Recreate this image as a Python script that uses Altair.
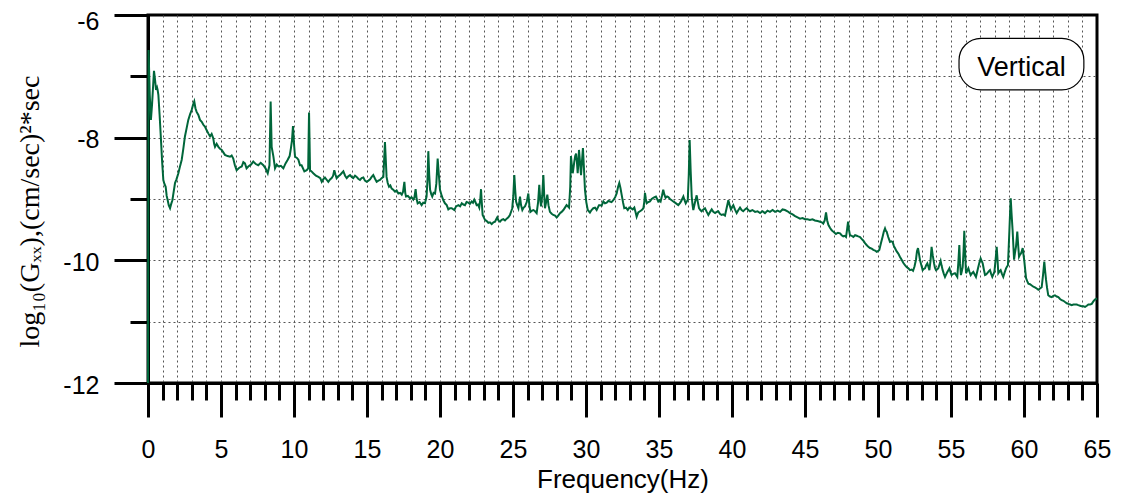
import altair as alt
import pandas as pd

freq_hz = [
    0.00, 0.04, 0.12, 0.20, 0.28, 0.41, 0.48, 0.55, 0.62, 0.66, 0.71, 0.80, 0.89, 0.97, 1.05, 1.12, 1.21, 1.28, 1.35, 1.42,
    1.51, 1.59, 1.67, 1.76, 1.85, 1.95, 2.08, 2.20, 2.31, 2.42, 2.53, 2.65, 2.76, 2.88, 2.99, 3.08, 3.17, 3.25, 3.33, 3.45,
    3.56, 3.68, 3.79, 3.90, 4.02, 4.13, 4.25, 4.36, 4.47, 4.53, 4.59, 4.70, 4.82, 4.93, 5.05, 5.16, 5.27, 5.45, 5.62, 5.73,
    5.84, 5.95, 6.07, 6.25, 6.42, 6.53, 6.64, 6.75, 6.87, 7.05, 7.21, 7.38, 7.55, 7.72, 7.90, 8.05, 8.20, 8.32, 8.40, 8.47,
    8.59, 8.70, 8.82, 8.93, 9.10, 9.27, 9.42, 9.57, 9.70, 9.79, 9.86, 9.93, 10.00, 10.07, 10.20, 10.30, 10.41, 10.52, 10.71, 10.87,
    10.97, 11.03, 11.10, 11.20, 11.32, 11.50, 11.67, 11.80, 11.90, 12.00, 12.12, 12.25, 12.35, 12.47, 12.58, 12.68, 12.76, 12.84, 12.92, 13.03,
    13.15, 13.26, 13.38, 13.50, 13.61, 13.72, 13.84, 13.95, 14.06, 14.18, 14.29, 14.40, 14.52, 14.63, 14.75, 14.86, 14.98, 15.10, 15.21, 15.32,
    15.43, 15.55, 15.66, 15.78, 15.89, 16.00, 16.12, 16.23, 16.34, 16.42, 16.51, 16.60, 16.69, 16.80, 16.92, 17.03, 17.15, 17.27, 17.38, 17.47,
    17.56, 17.62, 17.67, 17.80, 17.95, 18.05, 18.17, 18.25, 18.33, 18.40, 18.47, 18.60, 18.74, 18.85, 18.97, 19.08, 19.14, 19.20, 19.26, 19.32,
    19.40, 19.47, 19.56, 19.66, 19.75, 19.84, 19.92, 20.00, 20.12, 20.23, 20.34, 20.46, 20.57, 20.68, 20.80, 20.98, 21.10, 21.26, 21.38, 21.49,
    21.60, 21.71, 21.82, 21.94, 22.05, 22.17, 22.26, 22.35, 22.43, 22.51, 22.60, 22.69, 22.76, 22.81, 22.86, 22.92, 23.00, 23.08, 23.20, 23.31,
    23.42, 23.54, 23.66, 23.77, 23.85, 23.92, 24.00, 24.11, 24.22, 24.34, 24.45, 24.57, 24.68, 24.79, 24.88, 24.95, 25.02, 25.09, 25.15, 25.21,
    25.29, 25.37, 25.43, 25.48, 25.55, 25.64, 25.73, 25.82, 25.94, 26.05, 26.12, 26.19, 26.30, 26.40, 26.51, 26.62, 26.72, 26.80, 26.86, 26.92,
    27.00, 27.08, 27.14, 27.19, 27.27, 27.35, 27.43, 27.53, 27.65, 27.76, 27.88, 27.99, 28.10, 28.22, 28.33, 28.45, 28.56, 28.67, 28.76, 28.84,
    28.92, 28.97, 29.03, 29.09, 29.15, 29.20, 29.26, 29.32, 29.38, 29.43, 29.48, 29.52, 29.59, 29.66, 29.72, 29.79, 29.86, 29.93, 30.02, 30.12,
    30.27, 30.38, 30.50, 30.62, 30.73, 30.89, 30.96, 31.07, 31.19, 31.30, 31.42, 31.53, 31.64, 31.75, 31.87, 32.00, 32.10, 32.20, 32.28, 32.36,
    32.45, 32.54, 32.62, 32.74, 32.86, 32.97, 33.08, 33.20, 33.31, 33.40, 33.47, 33.58, 33.70, 33.82, 33.93, 33.99, 34.04, 34.10, 34.16, 34.27,
    34.38, 34.50, 34.61, 34.70, 34.79, 34.87, 34.95, 35.03, 35.11, 35.20, 35.29, 35.37, 35.45, 35.55, 35.64, 35.75, 35.87, 35.98, 36.10, 36.21,
    36.32, 36.42, 36.51, 36.59, 36.67, 36.75, 36.83, 36.90, 36.97, 37.04, 37.10, 37.17, 37.24, 37.30, 37.35, 37.47, 37.58, 37.66, 37.74, 37.83,
    37.92, 38.04, 38.15, 38.27, 38.38, 38.50, 38.61, 38.72, 38.84, 38.95, 39.06, 39.17, 39.29, 39.40, 39.52, 39.63, 39.75, 39.84, 39.93, 40.01,
    40.09, 40.20, 40.32, 40.44, 40.55, 40.66, 40.77, 40.89, 41.01, 41.12, 41.23, 41.40, 41.58, 41.75, 41.92, 42.09, 42.26, 42.43, 42.60, 42.78,
    42.95, 43.12, 43.29, 43.46, 43.63, 43.80, 43.97, 44.15, 44.32, 44.49, 44.66, 44.83, 45.00, 45.17, 45.34, 45.51, 45.68, 45.86, 46.03, 46.15,
    46.25, 46.35, 46.44, 46.52, 46.60, 46.71, 46.83, 46.97, 47.12, 47.26, 47.40, 47.51, 47.62, 47.72, 47.81, 47.88, 47.95, 48.01, 48.08, 48.20,
    48.31, 48.43, 48.54, 48.65, 48.77, 48.88, 49.00, 49.11, 49.22, 49.34, 49.45, 49.57, 49.68, 49.80, 49.91, 50.00, 50.09, 50.20, 50.32, 50.40,
    50.48, 50.54, 50.59, 50.70, 50.82, 50.91, 51.00, 51.08, 51.16, 51.27, 51.39, 51.50, 51.62, 51.73, 51.85, 51.96, 52.08, 52.19, 52.30, 52.40,
    52.50, 52.60, 52.67, 52.74, 52.81, 52.88, 52.97, 53.06, 53.14, 53.22, 53.30, 53.38, 53.45, 53.52, 53.60, 53.67, 53.75, 53.84, 53.90, 53.97,
    54.05, 54.13, 54.21, 54.29, 54.36, 54.43, 54.51, 54.59, 54.67, 54.75, 54.82, 54.89, 54.96, 55.04, 55.15, 55.27, 55.35, 55.43, 55.50, 55.57,
    55.62, 55.68, 55.74, 55.80, 55.86, 55.91, 55.97, 56.03, 56.11, 56.19, 56.27, 56.35, 56.44, 56.53, 56.62, 56.71, 56.79, 56.87, 56.95, 57.03,
    57.10, 57.17, 57.25, 57.33, 57.41, 57.49, 57.58, 57.67, 57.75, 57.83, 57.90, 57.97, 58.05, 58.13, 58.19, 58.24, 58.32, 58.40, 58.49, 58.58,
    58.67, 58.77, 58.84, 58.90, 58.95, 59.00, 59.05, 59.09, 59.15, 59.22, 59.27, 59.32, 59.38, 59.45, 59.50, 59.54, 59.60, 59.66, 59.72, 59.79,
    59.85, 59.91, 59.96, 60.02, 60.08, 60.14, 60.22, 60.30, 60.41, 60.53, 60.64, 60.75, 60.87, 60.98, 61.10, 61.21, 61.30, 61.39, 61.45, 61.51,
    61.58, 61.66, 61.78, 61.90, 62.01, 62.12, 62.24, 62.35, 62.47, 62.58, 62.70, 62.81, 62.93, 63.04, 63.16, 63.27, 63.38, 63.49, 63.61, 63.72,
    63.84, 63.95, 64.07, 64.18, 64.30, 64.41, 64.53, 64.64, 64.75, 64.86, 65.00,
]

log_gxx = [
    -12.00, -6.57, -7.30, -7.71, -7.45, -6.91, -7.05, -7.22, -7.18, -7.22, -7.30, -7.65, -8.04, -8.40, -8.69, -8.75, -8.80, -8.95, -9.02, -9.10,
    -9.15, -9.08, -9.02, -8.88, -8.74, -8.68, -8.58, -8.46, -8.36, -8.18, -7.98, -7.84, -7.71, -7.62, -7.55, -7.47, -7.41, -7.52, -7.58, -7.63,
    -7.71, -7.74, -7.79, -7.82, -7.88, -7.93, -7.98, -7.94, -8.01, -8.10, -8.15, -8.10, -8.15, -8.18, -8.20, -8.24, -8.28, -8.30, -8.31, -8.29,
    -8.34, -8.45, -8.53, -8.49, -8.47, -8.40, -8.42, -8.50, -8.47, -8.44, -8.39, -8.43, -8.45, -8.41, -8.45, -8.50, -8.58, -8.45, -7.41, -8.15,
    -8.31, -8.50, -8.44, -8.47, -8.46, -8.50, -8.42, -8.36, -8.30, -8.17, -8.05, -7.81, -8.10, -8.31, -8.33, -8.36, -8.45, -8.45, -8.55, -8.53,
    -8.50, -7.59, -8.53, -8.55, -8.58, -8.62, -8.64, -8.66, -8.72, -8.68, -8.65, -8.69, -8.72, -8.68, -8.66, -8.62, -8.53, -8.60, -8.66, -8.63,
    -8.61, -8.58, -8.55, -8.62, -8.66, -8.63, -8.61, -8.64, -8.66, -8.62, -8.64, -8.67, -8.69, -8.66, -8.65, -8.70, -8.72, -8.70, -8.68, -8.64,
    -8.61, -8.67, -8.72, -8.70, -8.69, -8.66, -8.64, -8.07, -8.64, -8.74, -8.80, -8.78, -8.83, -8.85, -8.88, -8.86, -8.91, -8.90, -8.93, -8.88,
    -8.72, -8.90, -8.96, -8.95, -8.99, -8.97, -9.01, -8.97, -8.84, -9.00, -9.07, -9.05, -9.10, -9.06, -9.07, -8.96, -8.70, -8.22, -8.60, -8.85,
    -8.92, -8.96, -8.90, -8.91, -8.75, -8.34, -8.60, -8.85, -8.95, -9.02, -9.07, -9.10, -9.17, -9.15, -9.15, -9.18, -9.12, -9.10, -9.12, -9.07,
    -9.09, -9.10, -9.05, -9.06, -9.08, -9.04, -9.06, -9.01, -9.05, -9.10, -9.09, -9.14, -9.00, -8.84, -9.05, -9.26, -9.30, -9.34, -9.36, -9.39,
    -9.38, -9.41, -9.38, -9.37, -9.33, -9.30, -9.35, -9.37, -9.34, -9.33, -9.35, -9.32, -9.30, -9.26, -9.20, -9.15, -8.95, -8.61, -8.85, -9.04,
    -9.10, -9.15, -9.05, -8.96, -9.10, -9.18, -9.14, -9.12, -9.05, -8.91, -9.10, -9.21, -9.19, -9.18, -9.20, -9.23, -9.05, -8.77, -9.00, -9.12,
    -8.95, -8.61, -8.95, -9.15, -9.05, -8.93, -9.10, -9.21, -9.24, -9.26, -9.27, -9.30, -9.27, -9.23, -9.21, -9.18, -9.14, -9.10, -9.12, -9.14,
    -8.80, -8.30, -8.45, -8.58, -8.48, -8.39, -8.30, -8.26, -8.40, -8.58, -8.40, -8.20, -8.40, -8.61, -8.40, -8.17, -8.50, -8.85, -9.05, -9.18,
    -9.22, -9.18, -9.15, -9.14, -9.18, -9.10, -9.10, -9.11, -9.04, -9.07, -9.06, -9.03, -9.04, -9.05, -9.02, -8.97, -8.91, -8.80, -8.74, -8.82,
    -8.94, -9.06, -9.15, -9.14, -9.18, -9.14, -9.15, -9.17, -9.14, -9.22, -9.29, -9.22, -9.20, -9.18, -9.15, -9.05, -8.90, -9.00, -9.07, -9.05,
    -9.04, -9.00, -8.98, -8.97, -8.96, -9.00, -9.04, -9.02, -9.04, -8.95, -8.85, -8.93, -8.98, -8.96, -8.97, -9.00, -9.02, -9.04, -9.06, -9.08,
    -9.10, -9.07, -9.04, -9.00, -8.96, -9.02, -9.07, -9.04, -9.02, -8.60, -8.04, -8.55, -8.96, -9.10, -9.18, -9.05, -8.94, -9.05, -9.15, -9.18,
    -9.20, -9.17, -9.15, -9.21, -9.26, -9.21, -9.17, -9.21, -9.23, -9.21, -9.20, -9.24, -9.26, -9.25, -9.27, -9.15, -9.02, -9.10, -9.17, -9.13,
    -9.10, -9.17, -9.23, -9.18, -9.14, -9.18, -9.20, -9.17, -9.15, -9.18, -9.20, -9.18, -9.21, -9.20, -9.23, -9.20, -9.23, -9.19, -9.21, -9.18,
    -9.21, -9.19, -9.21, -9.17, -9.18, -9.20, -9.23, -9.25, -9.28, -9.30, -9.32, -9.31, -9.33, -9.33, -9.34, -9.33, -9.35, -9.36, -9.37, -9.38,
    -9.40, -9.35, -9.22, -9.35, -9.42, -9.47, -9.51, -9.54, -9.57, -9.55, -9.56, -9.59, -9.61, -9.60, -9.62, -9.50, -9.37, -9.50, -9.59, -9.60,
    -9.62, -9.59, -9.60, -9.61, -9.62, -9.65, -9.68, -9.72, -9.75, -9.78, -9.80, -9.81, -9.83, -9.84, -9.86, -9.85, -9.83, -9.72, -9.61, -9.53,
    -9.48, -9.52, -9.53, -9.62, -9.70, -9.69, -9.70, -9.76, -9.80, -9.85, -9.89, -9.94, -9.99, -10.04, -10.08, -10.11, -10.13, -10.16, -10.15, -10.17,
    -10.10, -9.99, -9.85, -9.80, -9.90, -10.00, -10.08, -10.16, -10.14, -10.13, -10.08, -10.05, -10.10, -10.16, -10.00, -9.78, -9.92, -10.05, -10.12, -10.16,
    -10.15, -10.13, -10.07, -10.01, -10.09, -10.16, -10.22, -10.27, -10.23, -10.19, -10.16, -10.13, -10.19, -10.24, -10.22, -10.21, -10.24, -10.27, -10.05, -9.75,
    -10.05, -10.24, -10.18, -10.11, -9.85, -9.52, -9.90, -10.21, -10.17, -10.13, -10.19, -10.24, -10.21, -10.19, -10.23, -10.27, -10.19, -10.11, -10.03, -9.97,
    -10.01, -10.05, -10.15, -10.24, -10.23, -10.21, -10.18, -10.16, -10.22, -10.27, -10.23, -10.19, -10.00, -9.78, -10.00, -10.21, -10.18, -10.16, -10.22, -10.27,
    -10.20, -10.13, -10.10, -10.08, -9.80, -9.51, -9.20, -8.99, -9.25, -9.51, -9.75, -9.99, -9.88, -9.78, -9.65, -9.53, -9.75, -9.94, -9.91, -9.89,
    -9.85, -9.80, -9.90, -10.01, -10.15, -10.29, -10.34, -10.38, -10.39, -10.41, -10.43, -10.44, -10.46, -10.48, -10.46, -10.44, -10.25, -10.02, -10.18, -10.32,
    -10.45, -10.57, -10.59, -10.60, -10.58, -10.57, -10.59, -10.60, -10.63, -10.65, -10.66, -10.68, -10.70, -10.71, -10.72, -10.73, -10.72, -10.72, -10.72, -10.73,
    -10.74, -10.75, -10.75, -10.76, -10.74, -10.72, -10.72, -10.71, -10.67, -10.64, -10.62,
]

x_major_ticks = [0, 5, 10, 15, 20, 25, 30, 35, 40, 45, 50, 55, 60, 65]
x_minor_ticks = list(range(1, 65))
y_major_ticks = [-6, -8, -10, -12]
y_minor_ticks = [-7, -8, -9, -10, -11]

legend_text = ["Vertical"]
legend_box_x = [55.55]
legend_box_x2 = [64.1]
legend_box_y = [-6.38]
legend_box_y2 = [-7.22]
legend_text_x = [59.83]
legend_text_y = [-6.86]

df = pd.DataFrame({"f": freq_hz, "v": log_gxx})
box_df = pd.DataFrame({"x": legend_box_x, "x2": legend_box_x2, "y": legend_box_y, "y2": legend_box_y2})
txt_df = pd.DataFrame({"x": legend_text_x, "y": legend_text_y, "t": legend_text})

xscale = alt.Scale(domain=[0, 65], nice=False, zero=False)
yscale = alt.Scale(domain=[-12, -6], nice=False, zero=False)

minor = alt.Chart(df).mark_line(strokeOpacity=0).encode(
    x=alt.X("f:Q", scale=xscale, title=None, axis=alt.Axis(
        orient="bottom", values=x_minor_ticks, tickSize=17, tickWidth=3, tickColor="black",
        labels=False, domain=False, grid=True, gridDash=[2, 3], gridColor="#555555",
        gridWidth=1, gridOpacity=1)),
    y=alt.Y("v:Q", scale=yscale, title=None, axis=alt.Axis(
        orient="left", values=y_minor_ticks, tickSize=18, tickWidth=3, tickColor="black",
        labels=False, domain=False, grid=True, gridDash=[2, 3], gridColor="#555555",
        gridWidth=1, gridOpacity=1)),
)

major = alt.Chart(df).mark_line(color="#00663a", strokeWidth=2).encode(
    x=alt.X("f:Q", scale=xscale, title="Frequency(Hz)", axis=alt.Axis(
        orient="bottom", values=x_major_ticks, tickSize=34, tickWidth=3, tickColor="black",
        domainColor="black", domainWidth=3, grid=False,
        labelFont="Liberation Sans", labelFontSize=25, labelColor="black", labelPadding=20,
        labelFlush=False, labelOverlap=False,
        titleFont="Liberation Sans", titleFontSize=26, titleFontWeight="normal", titleColor="black",
        titleY=104, titleBaseline="alphabetic")),
    y=alt.Y("v:Q", scale=yscale, title="log₁₀(Gₓₓ),(cm/sec)²*sec", axis=alt.Axis(
        orient="left", values=y_major_ticks, tickSize=34, tickWidth=3, tickColor="black",
        domainColor="black", domainWidth=3, grid=False,
        labelFont="Liberation Sans", labelFontSize=25, labelColor="black", labelPadding=15,
        labelBaseline="middle", labelOverlap=False,
        labelOffset=alt.condition("datum.value == -6", alt.value(6), alt.value(2)),
        labelExpr="'' + datum.value",
        titleFont="Liberation Serif", titleFontSize=28, titleFontWeight="normal", titleColor="black",
        titleX=-118, titleY=196, titleAngle=270, titleBaseline="middle", titleAlign="center")),
)

box = alt.Chart(box_df).mark_rect(cornerRadius=22, fill="white", stroke="black", strokeWidth=1.2).encode(
    x=alt.X("x:Q", scale=xscale, axis=None),
    x2="x2:Q",
    y=alt.Y("y:Q", scale=yscale, axis=None),
    y2="y2:Q",
)

label = alt.Chart(txt_df).mark_text(font="Liberation Sans", fontSize=27, color="black").encode(
    x=alt.X("x:Q", scale=xscale, axis=None),
    y=alt.Y("y:Q", scale=yscale, axis=None),
    text="t:N",
)

chart = alt.layer(minor, major, box, label).resolve_axis(
    x="independent", y="independent"
).properties(
    width=949,
    height=368,
    padding={"left": 140, "top": 7, "right": 16, "bottom": 111},
    autosize=alt.AutoSizeParams(type="none"),
    background="white",
).configure_view(stroke="black", strokeWidth=3)

chart.save("out.html", embed_options={"renderer": "svg", "actions": False})
